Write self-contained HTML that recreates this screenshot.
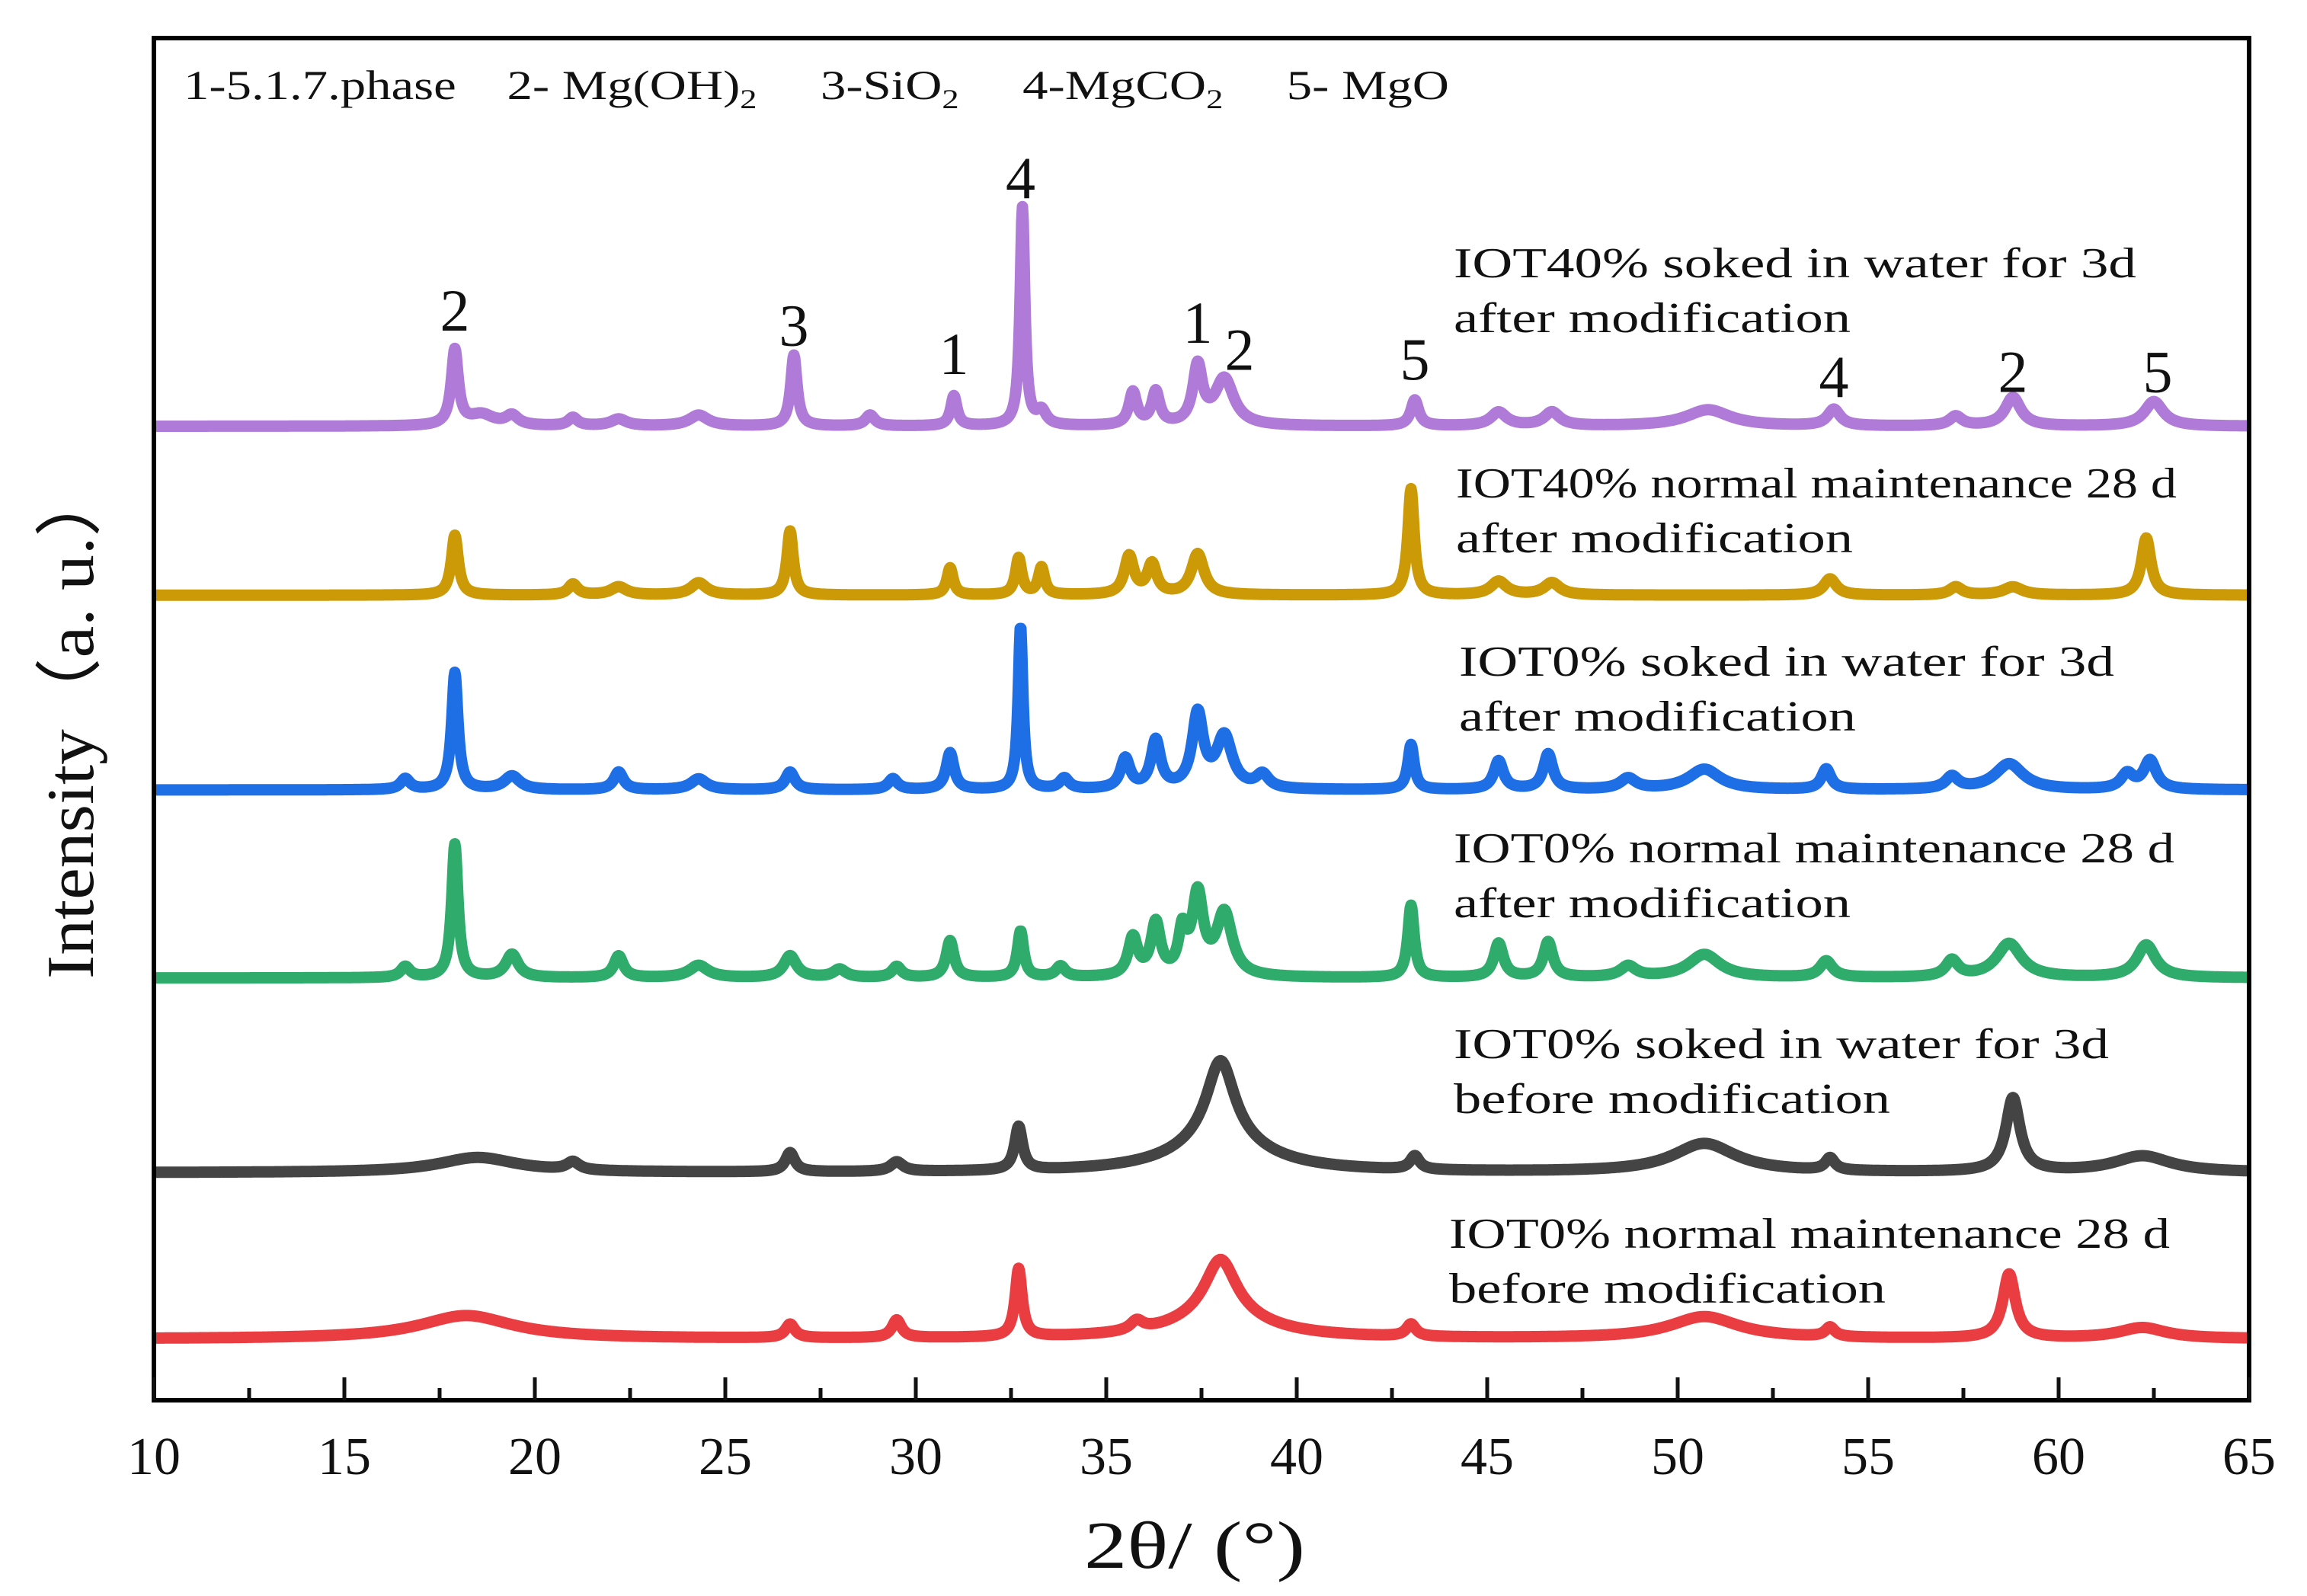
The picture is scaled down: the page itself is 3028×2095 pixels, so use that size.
<!DOCTYPE html>
<html><head><meta charset="utf-8"><style>
html,body{margin:0;padding:0;background:#fff;}
svg{display:block;}
text{font-family:"Liberation Serif",serif;fill:#111;}
</style></head><body>
<svg id="chart" width="3028" height="2095" viewBox="0 0 3028 2095" xmlns="http://www.w3.org/2000/svg">
<rect x="0" y="0" width="3028" height="2095" fill="#fff"/>
<g id="series"></g>
<g id="axes"></g>
<text x="241" y="130" font-size="54" textLength="1661" lengthAdjust="spacingAndGlyphs" style="white-space:pre" xml:space="preserve">1-5.1.7.phase    2- Mg(OH)<tspan font-size="36" dy="12">2</tspan><tspan dy="-12">     3-SiO</tspan><tspan font-size="36" dy="12">2</tspan><tspan dy="-12">     4-MgCO</tspan><tspan font-size="36" dy="12">2</tspan><tspan dy="-12">     5- MgO</tspan></text>
<text transform="translate(122,948) rotate(-90)" text-anchor="middle" font-size="88" textLength="674" lengthAdjust="spacingAndGlyphs">Intensity（a. u.）</text>
<text x="1568" y="2058" text-anchor="middle" font-size="88" textLength="290" lengthAdjust="spacingAndGlyphs">2θ/ (°)</text>
<g id="labels"></g>
<g id="peaks"></g>
</svg>
<script>
// axis ticks
const xTicks = [10,15,20,25,30,35,40,45,50,55,60,65];
const xMinorTicks = [12.5,17.5,22.5,27.5,32.5,37.5,42.5,47.5,52.5,57.5,62.5];
// baselines (a.u.)
const seriesNames = ['iot40-soaked-after','iot40-normal-after','iot0-soaked-after','iot0-normal-after','iot0-soaked-before','iot0-normal-before'];
const seriesColors = ['#b07ad8','#cc9a06','#1e6fe6','#2fab6b','#444444','#ea3d42'];
const baselines = [715,591,448,310,167,45];
// peaks: positions, amplitudes (a.u.), widths (deg FWHM)
const purplePos = [17.9,18.6,19.4,21,22.2,24.3,26.8,28.8,31,32.8,33.3,35.7,36.3,37.4,38.1,43.1,45.3,46.7,50.8,54.1,57.3,58.8,62.5];
const purpleAmp = [55,8,7,6,5,8,52,8,22,160,10,24,24,42,34,19,10,10,12,12,7,21,18];
const purpleWid = [0.22,0.8,0.4,0.3,0.5,0.6,0.2,0.3,0.2,0.15,0.3,0.25,0.25,0.3,0.6,0.25,0.5,0.5,1.4,0.4,0.4,0.5,0.6];
const goldPos = [17.9,21,22.2,24.3,26.7,30.9,32.7,33.3,35.6,36.2,37.4,43,45.3,46.7,54,57.3,58.8,62.3];
const goldAmp = [44,8,6,9,47,20,27,20,28,22,30,78,10,9,12,6,6,42];
const goldWid = [0.22,0.3,0.5,0.5,0.2,0.2,0.2,0.2,0.3,0.3,0.4,0.2,0.5,0.5,0.4,0.4,0.6,0.3];
const bluePos = [16.6,17.9,19.4,22.2,24.3,26.7,29.4,30.9,32.75,33.9,35.5,36.3,37.4,38.1,39.1,43,45.3,46.6,48.7,50.7,53.9,57.2,58.7,61.8,62.4];
const blueAmp = [8,86,10,13,8,13,8,27,120,8,22,35,54,38,10,33,21,26,8,15,15,9,19,11,21];
const blueWid = [0.3,0.2,0.5,0.3,0.5,0.3,0.3,0.25,0.15,0.3,0.3,0.3,0.35,0.5,0.4,0.2,0.3,0.3,0.5,1.0,0.3,0.4,0.9,0.4,0.4];
const greenPos = [16.6,17.9,19.4,22.2,24.3,26.7,28,29.5,30.9,32.75,33.8,35.7,36.3,37,37.4,38.1,43,45.3,46.6,48.7,50.7,53.9,57.2,58.7,62.3];
const greenAmp = [8,98,17,16,9,16,6,8,27,34,8,28,38,30,58,46,53,25,26,8,17,12,12,25,24];
const greenWid = [0.3,0.2,0.4,0.3,0.6,0.4,0.4,0.3,0.25,0.2,0.3,0.3,0.3,0.25,0.35,0.5,0.2,0.3,0.3,0.5,1.0,0.4,0.4,0.8,0.6];
const grayPos = [18.5,21,26.7,29.5,32.7,38,38,43.1,50.7,54,58.8,62.2];
const grayAmp = [11,6,14,7,32,60,22,10,21,9,54,12];
const grayWid = [2.5,0.4,0.3,0.4,0.25,0.9,3.0,0.3,2.0,0.3,0.45,1.8];
const redPos = [18.2,26.7,29.5,32.7,35.8,38,38,43,50.7,54,58.7,62.2];
const redAmp = [17,10,13,50,7,42,16,9,16,7,47,8];
const redWid = [3.0,0.3,0.3,0.22,0.4,1.0,3.0,0.3,2.2,0.3,0.4,1.5];
const peakSets = [[purplePos,purpleAmp,purpleWid],[goldPos,goldAmp,goldWid],[bluePos,blueAmp,blueWid],[greenPos,greenAmp,greenWid],[grayPos,grayAmp,grayWid],[redPos,redAmp,redWid]];
// annotations
const peakLabelText = ['2','3','1','4','1','2','5','4','2','5'];
const peakLabelX = [17.9,26.8,31.0,32.75,37.4,38.5,43.1,54.1,58.8,62.6];
const peakLabelY = [801,790,769,898,792,772,765,752,756,756];
const seriesLabel1 = ['IOT40% soked in water for 3d','IOT40% normal maintenance 28 d','IOT0% soked in water for 3d','IOT0% normal maintenance 28 d','IOT0% soked in water for 3d','IOT0% normal maintenance 28 d'];
const seriesLabel2 = ['after modification','after modification','after modification','after modification','before modification','before modification'];

const X0=202, X1=2952, Y0=50, Y1=1838;
function xs(v){return X0+(v-10)*(X1-X0)/55;}
function ys(v){return Y1-v*(Y1-Y0)/1000;}
const NS='http://www.w3.org/2000/svg';
function mk(tag,attrs,parent){const e=document.createElementNS(NS,tag);for(const k in attrs)e.setAttribute(k,attrs[k]);parent.appendChild(e);return e;}

const sg=document.getElementById('series');
peakSets.forEach((ps,i)=>{
  const [pos,amp,wid]=ps; let d='';
  for(let x=10;x<=65.0001;x+=0.02){
    let v=baselines[i];
    for(let k=0;k<pos.length;k++){const t=(x-pos[k])/(wid[k]/2);v+=amp[k]/(1+t*t);}
    d+=(d?'L':'M')+xs(x).toFixed(1)+' '+ys(v).toFixed(1);
  }
  const p=mk('path',{d:d,fill:'none',stroke:seriesColors[i],'stroke-width':15,'stroke-linejoin':'round'},sg);
  
  
});

const ax=document.getElementById('axes');
const fr=mk('rect',{x:X0,y:Y0,width:X1-X0,height:Y1-Y0,fill:'none',stroke:'#000','stroke-width':6},ax);


xTicks.forEach(t=>{
  const l=mk('line',{x1:xs(t),x2:xs(t),y1:Y1,y2:Y1-30,stroke:'#111','stroke-width':5},ax);
  
  
  const tx=mk('text',{x:xs(t),y:1935,'text-anchor':'middle','font-size':70},ax);
  tx.textContent=String(t);
  
  
});
xMinorTicks.forEach(t=>{
  const l=mk('line',{x1:xs(t),x2:xs(t),y1:Y1,y2:Y1-16,stroke:'#111','stroke-width':5},ax);
  
  
});

const lg=document.getElementById('labels');
const labelY1=[364,653,887,1132,1389,1638];
const labelX=[1908,1911,1915,1908,1908,1902];
const w1=[896,946,860,946,860,946];
seriesLabel1.forEach((s,i)=>{
  const t=mk('text',{x:labelX[i],y:labelY1[i],'font-size':56,textLength:w1[i],lengthAdjust:'spacingAndGlyphs'},lg);
  t.textContent=s;
  
  
  const t2=mk('text',{x:labelX[i],y:labelY1[i]+72,'font-size':56,textLength:(i>=4?573:521),lengthAdjust:'spacingAndGlyphs'},lg);
  t2.textContent=seriesLabel2[i];
  
  
});

const pg=document.getElementById('peaks');
peakLabelText.forEach((s,i)=>{
  const t=mk('text',{x:xs(peakLabelX[i]),y:ys(peakLabelY[i])+28,'text-anchor':'middle','font-size':78},pg);
  t.textContent=s;
  
  
});
</script>
</body></html>
